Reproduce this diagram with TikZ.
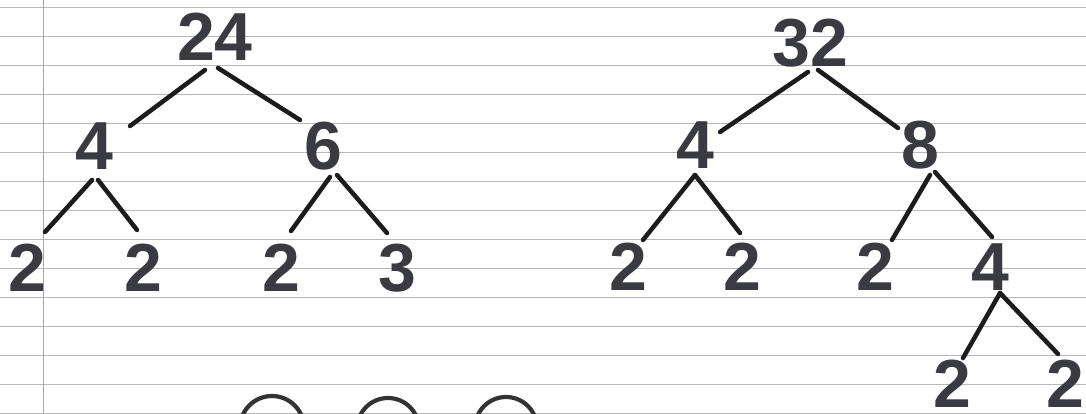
\documentclass[tikz,border=0pt]{standalone}
\usepackage{fontspec}
\setmainfont{Liberation Sans}
\definecolor{digit}{HTML}{3A3A42}
\definecolor{ink}{HTML}{1C1C1E}
\definecolor{rule}{HTML}{B8B8B8}
\begin{document}
\begin{tikzpicture}[x=1pt,y=-1pt,
  num/.style={inner sep=0pt,text=digit,font=\fontsize{68}{68}\selectfont\bfseries},
  edge/.style={draw=ink,line width=4.5pt,line cap=round},
  arcline/.style={draw=ink!90,line width=4.2pt},
  ruleline/.style={draw=rule,line width=0.7pt}]
\useasboundingbox (0,0) rectangle (1086,414);
\clip (0,0) rectangle (1086,414);
\fill[white] (0,0) rectangle (1086,414);
% ruled paper
\foreach \k in {0,...,14}{
  \draw[ruleline] (0,{7+29.05*\k}) -- (1086,{7+29.05*\k});
}
\draw[draw=rule!90!black,line width=0.8pt] (43,0) -- (43,414);
% left tree
\node[num] (a24) at (215,37) {24};
\node[num] (a4) at (94,146) {4};
\node[num] (a6) at (323,146) {6};
\node[num] (a2a) at (27,268) {2};
\node[num] (a2b) at (143,268) {2};
\node[num] (a2c) at (281,268) {2};
\node[num] (a3) at (397,268) {3};
\draw[edge] ([shift={(-10,33)}]a24.center) -- ([shift={(36,-20)}]a4.center);
\draw[edge] ([shift={(3,31)}]a24.center) -- ([shift={(-23,-26)}]a6.center);
\draw[edge] ([shift={(-2,34)}]a4.center) -- ([shift={(18,-36)}]a2a.center);
\draw[edge] ([shift={(4,34)}]a4.center) -- ([shift={(-6,-38)}]a2b.center);
\draw[edge] ([shift={(7,31)}]a6.center) -- ([shift={(10,-37)}]a2c.center);
\draw[edge] ([shift={(14,29)}]a6.center) -- ([shift={(-10,-35)}]a3.center);
% right tree
\node[num] (b32) at (810,43) {32};
\node[num] (b4) at (695,145) {4};
\node[num] (b8) at (920,145) {8};
\node[num] (b2a) at (628,267) {2};
\node[num] (b2b) at (742,267) {2};
\node[num] (b2c) at (875,267) {2};
\node[num] (b4b) at (990,267) {4};
\node[num] (c2a) at (952,384) {2};
\node[num] (c2b) at (1065,384) {2};
\draw[edge] ([shift={(-2,29)}]b32.center) -- ([shift={(25,-13)}]b4.center);
\draw[edge] ([shift={(8,27)}]b32.center) -- ([shift={(-22,-17)}]b8.center);
\draw[edge] ([shift={(0,30)}]b4.center) -- ([shift={(15,-27)}]b2a.center);
\draw[edge] ([shift={(0,30)}]b4.center) -- ([shift={(-2,-34)}]b2b.center);
\draw[edge] ([shift={(10,30)}]b8.center) -- ([shift={(17,-27)}]b2c.center);
\draw[edge] ([shift={(15,27)}]b8.center) -- ([shift={(2,-30)}]b4b.center);
\draw[edge] ([shift={(10,26)}]b4b.center) -- ([shift={(11,-26)}]c2a.center);
\draw[edge] ([shift={(10,26)}]b4b.center) -- ([shift={(-7,-30)}]c2b.center);
% arcs at the bottom
\draw[arcline] (272,428) circle[radius=32];
\draw[arcline] (388,429) circle[radius=31];
\draw[arcline] (506,428) circle[radius=31];
\end{tikzpicture}
\end{document}
